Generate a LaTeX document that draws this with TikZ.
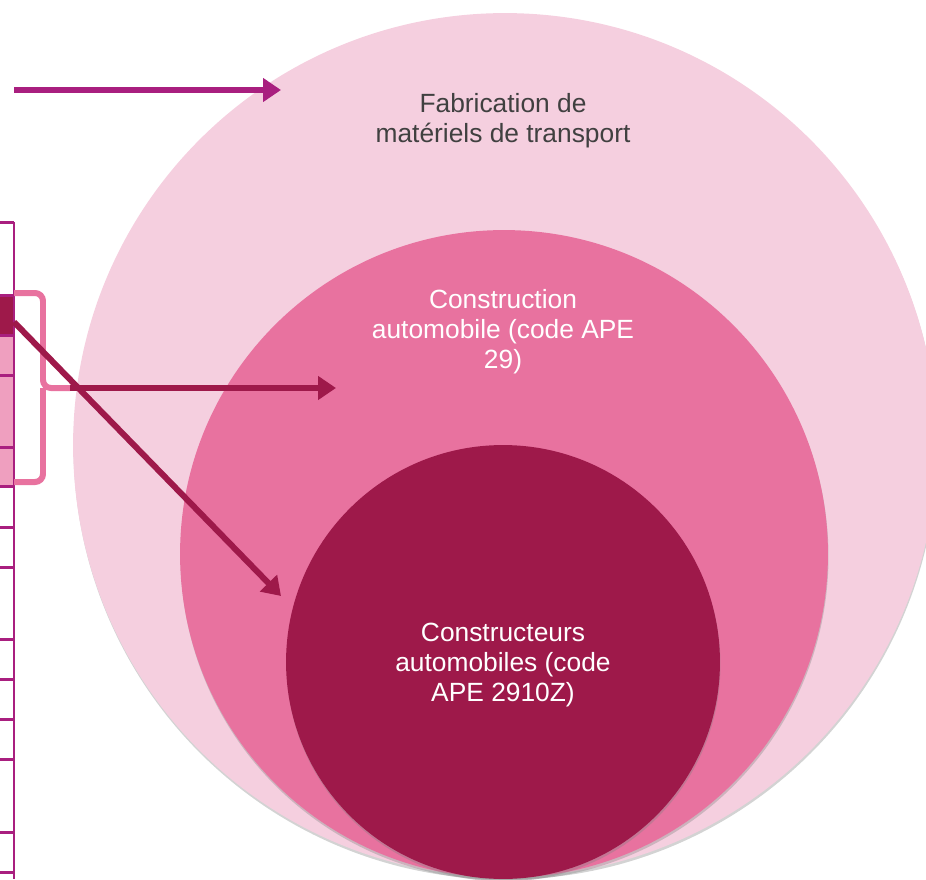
\documentclass[tikz,border=0pt]{standalone}
\usepackage{fontspec}
\setmainfont{Liberation Sans}
\usetikzlibrary{arrows.meta,shadows,positioning}
\definecolor{palepink}{HTML}{F5CFDF}
\definecolor{midpink}{HTML}{E8729F}
\definecolor{wine}{HTML}{9E194A}
\definecolor{plum}{HTML}{A91F7F}
\definecolor{rowpink}{HTML}{EF9FBF}
\definecolor{textgray}{HTML}{404040}

\begin{document}
\begin{tikzpicture}[x=0.02cm,y=-0.02cm,>={Triangle[length=0.36cm,width=0.46cm]},
  ring/.style={circle,inner sep=0pt,drop shadow={shadow xshift=0.3pt,shadow yshift=-1.5pt,opacity=.35}},
  ring text/.style={align=center,font=\fontsize{15}{17}\selectfont},
  rule/.style={plum,line width=0.06cm},
  link/.style={->,line width=0.12cm,wine}]
  \useasboundingbox (0,0) rectangle (926,879);
  \clip (0,0) rectangle (926,879);
  % Nested sets
  \node[ring,fill=palepink,minimum size=17.28cm] (transport) at (505,445) {};
  \node[ring,fill=midpink,minimum size=12.96cm]  (auto)      at (504,554) {};
  \node[ring,fill=wine,minimum size=8.68cm]      (makers)    at (503,662) {};
  \node[ring text,textgray] (transport label) at (503,121) {Fabrication de\\matériels de transport};
  \node[ring text,white]    (auto label)      at (503,332) {Construction\\automobile (code APE\\29)};
  \node[ring text,white]    (makers label)    at (503,665) {Constructeurs\\automobiles (code\\APE 2910Z)};

  % Table, cut at the left border
  \fill[wine] (0,295) rectangle (14,335);
  \fill[rowpink] (0,335) rectangle (14,486);
  \foreach \y in {222,295,335,375,447,486,527,567,639,679,719,759,832,872}
    \draw[rule] (0,\y) -- (14,\y);
  \draw[rule] (14,222) -- (14,879);

  % Brace over the pink rows
  \draw[midpink,line width=0.12cm,rounded corners=0.16cm]
    (14,293) -| (43,388) -- (70,388)
    (14,482) -| (43,388);

  % Connecting arrows
  \coordinate (table top)    at (14,90);
  \coordinate (transport in) at (281,90);
  \coordinate (brace tip)    at (70,388);
  \coordinate (auto in)      at (336,388);
  \coordinate (dark row)     at (14,322);
  \coordinate (makers in)    at (281,596);
  \draw[->,plum,line width=0.13cm] (table top) -- (transport in);
  \draw[link] (brace tip) -- (auto in);
  \draw[link] (dark row) -- (makers in);
\end{tikzpicture}
\end{document}
